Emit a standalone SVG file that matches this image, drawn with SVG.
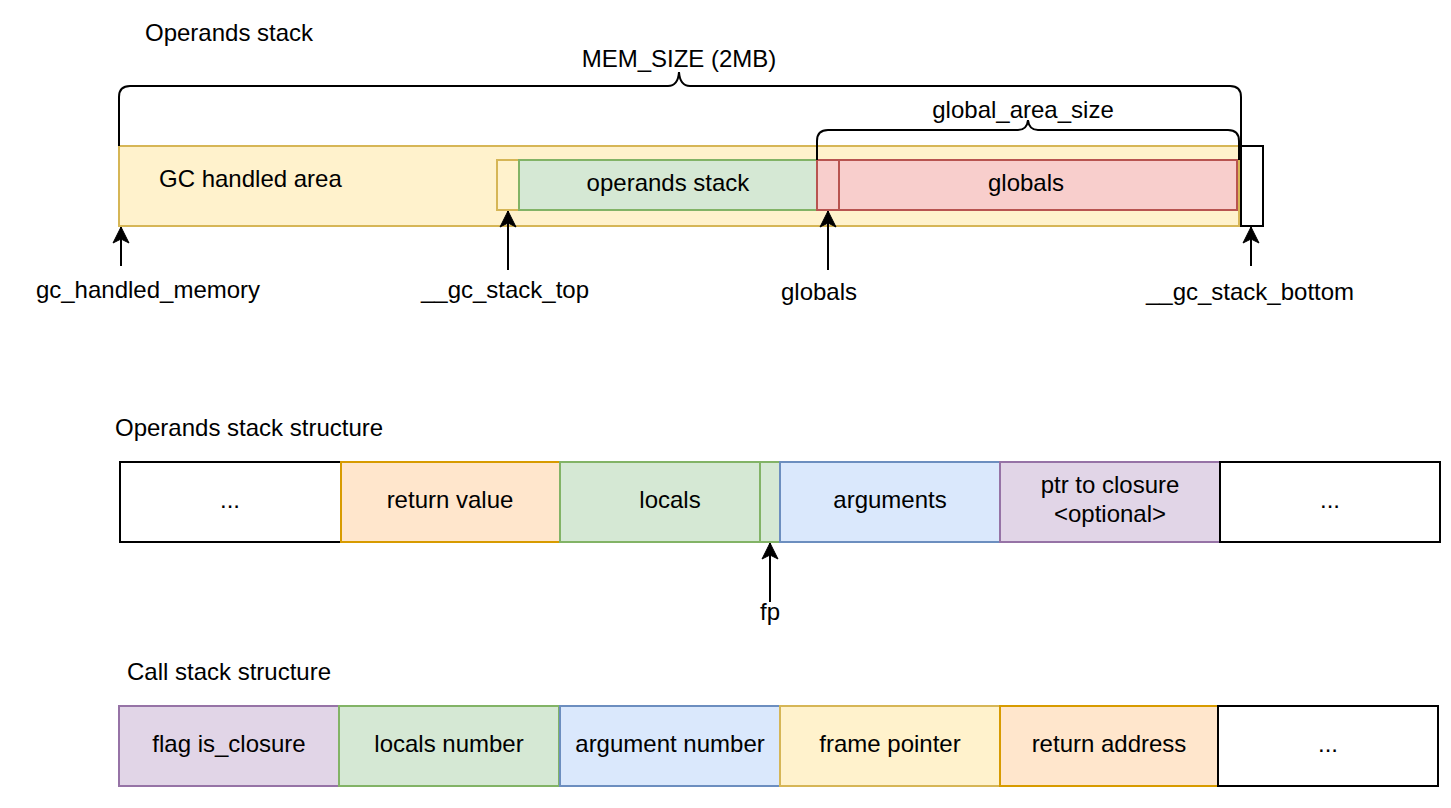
<svg xmlns="http://www.w3.org/2000/svg" width="1451" height="808" viewBox="0 0 1451 808">
<style>
text{font-family:"Liberation Sans",Arial,Helvetica,sans-serif;font-size:24px;fill:#000}
.c{text-anchor:middle}
.y{fill:#fff2cc;stroke:#d6b656;stroke-width:2}
.g{fill:#d5e8d4;stroke:#82b366;stroke-width:2}
.r{fill:#f8cecc;stroke:#b85450;stroke-width:2}
.o{fill:#ffe6cc;stroke:#d79b00;stroke-width:2}
.b{fill:#dae8fc;stroke:#6c8ebf;stroke-width:2}
.p{fill:#e1d5e7;stroke:#9673a6;stroke-width:2}
.w{fill:#fff;stroke:#000;stroke-width:2}
.br{fill:none;stroke:#000;stroke-width:2}
.ar{fill:none;stroke:#000;stroke-width:2;marker-end:url(#arr)}
</style>
<defs>
<marker id="arr" markerUnits="userSpaceOnUse" markerWidth="20" markerHeight="20" viewBox="-17 -10 20 20" refX="0" refY="0" orient="auto">
<path d="M0,0 L-16,-8 L-12,0 L-16,8 Z" fill="#000" stroke="#000" stroke-width="1"/>
</marker>
</defs>
<rect width="1451" height="808" fill="#fff"/>

<text x="145" y="41">Operands stack</text>
<text x="115" y="436">Operands stack structure</text>
<text x="127" y="680">Call stack structure</text>

<g id="gc-area"><rect class="y" x="119" y="146" width="1120" height="80"/><text x="159" y="187">GC handled area</text></g>
<g id="stack-top-cell"><rect class="y" x="497" y="160" width="22" height="50"/></g>
<g id="operands-stack"><rect class="g" x="519" y="160" width="298" height="50"/><text class="c" x="668" y="191">operands stack</text></g>
<g id="globals-cell"><rect class="r" x="817" y="160" width="22" height="50"/></g>
<g id="globals"><rect class="r" x="839" y="160" width="398" height="50"/><text class="c" x="1026" y="191">globals</text></g>
<g id="stack-bottom"><rect class="w" x="1241" y="146" width="22" height="80"/></g>

<g id="mem-size"><path class="br" d="M119,146 V97 Q119,86 130,86 H668 Q678,86 679,72 Q680,86 690,86 H1230 Q1241,86 1241,97 V160"/><text class="c" x="679" y="67">MEM_SIZE (2MB)</text></g>
<g id="global-area-size"><path class="br" d="M817,160 V141 Q817,130 828,130 H1018 Q1027,130 1028,120 Q1029,130 1038,130 H1228 Q1239,130 1239,141 V160"/><text class="c" x="1023" y="118">global_area_size</text></g>

<g id="lbl-gc-mem"><text class="c" x="148" y="298">gc_handled_memory</text></g>
<g id="lbl-stack-top"><text class="c" x="505" y="298">__gc_stack_top</text></g>
<g id="lbl-globals"><text class="c" x="819" y="300">globals</text></g>
<g id="lbl-stack-bottom"><text class="c" x="1250" y="300">__gc_stack_bottom</text></g>

<g id="os-dots1"><rect class="w" x="120" y="462" width="221" height="80"/><text class="c" x="230" y="508">...</text></g>
<g id="os-return"><rect class="o" x="341" y="462" width="219" height="80"/><text class="c" x="450" y="508">return value</text></g>
<g id="os-locals"><rect class="g" x="560" y="462" width="200" height="80"/><text class="c" x="670" y="508">locals</text></g>
<g id="os-fp-cell"><rect class="g" x="760" y="462" width="20" height="80"/></g>
<g id="os-args"><rect class="b" x="780" y="462" width="220" height="80"/><text class="c" x="890" y="508">arguments</text></g>
<g id="os-closure"><rect class="p" x="1000" y="462" width="220" height="80"/><text class="c" x="1110" y="493">ptr to closure</text><text class="c" x="1110" y="522">&lt;optional&gt;</text></g>
<g id="os-dots2"><rect class="w" x="1220" y="462" width="220" height="80"/><text class="c" x="1330" y="508">...</text></g>
<g id="lbl-fp"><text class="c" x="770" y="620">fp</text></g>

<g id="cs-flag"><rect class="p" x="119" y="706" width="220" height="80"/><text class="c" x="229" y="752">flag is_closure</text></g>
<g id="cs-locals"><rect class="g" x="339" y="706" width="220" height="80"/><text class="c" x="449" y="752">locals number</text></g>
<g id="cs-args"><rect class="b" x="560" y="706" width="220" height="80"/><text class="c" x="670" y="752">argument number</text></g>
<g id="cs-fp"><rect class="y" x="780" y="706" width="220" height="80"/><text class="c" x="890" y="752">frame pointer</text></g>
<g id="cs-ret"><rect class="o" x="1000" y="706" width="218" height="80"/><text class="c" x="1109" y="752">return address</text></g>
<g id="cs-dots"><rect class="w" x="1218" y="706" width="220" height="80"/><text class="c" x="1328" y="752">...</text></g>

<g id="connectors">
<line class="ar" x1="121" y1="266" x2="121" y2="227"/>
<line class="ar" x1="508" y1="270" x2="508" y2="211"/>
<line class="ar" x1="828" y1="270" x2="828" y2="211"/>
<line class="ar" x1="1251" y1="266" x2="1251" y2="227"/>
<line class="ar" x1="770" y1="602" x2="770" y2="543"/>
</g>
</svg>
